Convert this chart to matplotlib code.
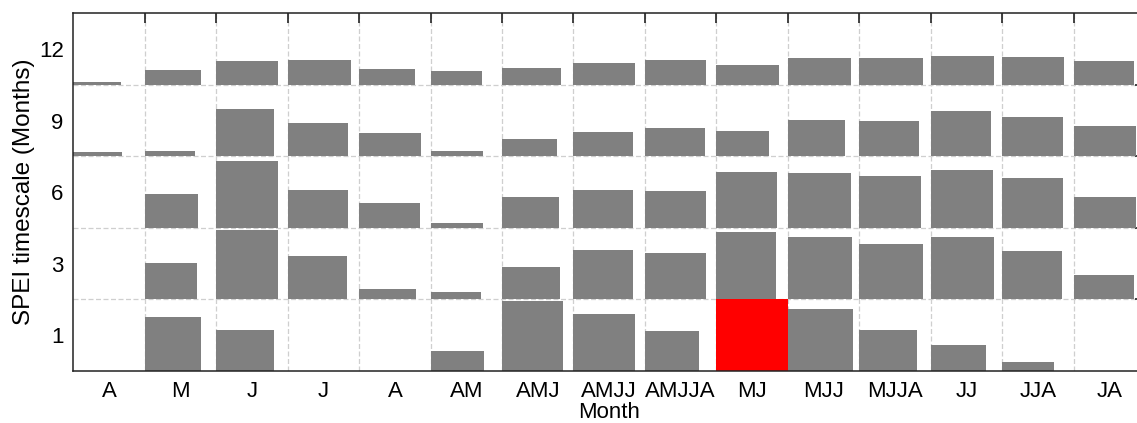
import numpy as np
from matplotlib import pyplot as plt

# month groupings along x, SPEI timescales along y
months = ['A', 'M', 'J', 'J', 'A', 'AM', 'AMJ', 'AMJJ', 'AMJJA',
          'MJ', 'MJJ', 'MJJA', 'JJ', 'JJA', 'JA']
timescales = ['1', '3', '6', '9', '12']

# bar height (fraction of cell) for each timescale row
h_ts1 = [0, 0.75, 0.58, 0, 0, 0.28, 0.98, 0.79, 0.56, 1.0, 0.86, 0.57, 0.36, 0.13, 0]
h_ts3 = [0.008, 0.51, 0.97, 0.61, 0.15, 0.11, 0.46, 0.69, 0.65, 0.94, 0.88, 0.78, 0.88, 0.68, 0.34]
h_ts6 = [0, 0.48, 0.93, 0.53, 0.35, 0.07, 0.43, 0.53, 0.52, 0.78, 0.77, 0.73, 0.81, 0.70, 0.43]
h_ts9 = [0.06, 0.075, 0.66, 0.47, 0.33, 0.075, 0.24, 0.34, 0.40, 0.36, 0.51, 0.50, 0.63, 0.55, 0.42]
h_ts12 = [0.04, 0.21, 0.33, 0.35, 0.22, 0.19, 0.24, 0.31, 0.35, 0.28, 0.37, 0.37, 0.41, 0.39, 0.34]

# bar width (fraction of cell) for each timescale row
w_ts1 = [0, 0.78, 0.81, 0, 0, 0.75, 0.85, 0.86, 0.76, 1.0, 0.91, 0.81, 0.77, 0.73, 0]
w_ts3 = [0.68, 0.73, 0.86, 0.83, 0.80, 0.71, 0.81, 0.84, 0.85, 0.84, 0.90, 0.89, 0.88, 0.84, 0.85]
w_ts6 = [0, 0.74, 0.87, 0.85, 0.85, 0.74, 0.80, 0.84, 0.86, 0.85, 0.88, 0.87, 0.87, 0.85, 0.87]
w_ts9 = [0.68, 0.70, 0.81, 0.85, 0.87, 0.73, 0.77, 0.84, 0.84, 0.74, 0.80, 0.83, 0.84, 0.85, 0.87]
w_ts12 = [0.66, 0.79, 0.87, 0.89, 0.78, 0.72, 0.83, 0.86, 0.86, 0.87, 0.88, 0.89, 0.88, 0.86, 0.84]

heights = [h_ts1, h_ts3, h_ts6, h_ts9, h_ts12]
widths = [w_ts1, w_ts3, w_ts6, w_ts9, w_ts12]

plt.rcParams['font.family'] = ['Liberation Sans', 'DejaVu Sans']

fig = plt.figure(figsize=(11.37, 4.23), dpi=100)
ax = fig.add_axes([0.0646, 0.1229, 0.9424, 0.8456])

x = np.arange(len(months))
for r in range(len(timescales)):
    h = np.array(heights[r])
    w = np.array(widths[r])
    # best cell (full height) is shown in red
    colors = ['#ff0000' if v >= 1.0 else '#808080' for v in h]
    ax.bar(x, h, width=w, bottom=r, align='edge', color=colors,
           linewidth=0, zorder=2)

ax.set_xlim(0, len(months))
ax.set_ylim(0, len(timescales))

# labels sit at cell centres, ticks and grid at cell edges
ax.set_xticks(x + 0.5)
ax.set_xticklabels(months)
ax.set_yticks(np.arange(len(timescales)) + 0.5)
ax.set_yticklabels(timescales)
ax.set_xticks(np.arange(1, len(months)), minor=True)
ax.set_yticks(np.arange(1, len(timescales)), minor=True)

ax.tick_params(which='major', length=0, labelsize=16, pad=7)
ax.tick_params(which='minor', direction='in', length=7.5, width=1.2,
               top=True, bottom=False, left=False, right=True, color='#222222')
ax.grid(which='minor', color='#cfcfcf', linestyle=(0, (4, 2)), linewidth=0.9, zorder=1)
ax.set_axisbelow(True)

for s in ax.spines.values():
    s.set_linewidth(1.1)
    s.set_color('#222222')
    s.set_zorder(3)

ax.set_xlabel('Month', fontsize=16, labelpad=0)
ax.set_ylabel('SPEI timescale (Months)', fontsize=17.5, labelpad=3)

fig.savefig('out.png', dpi=100)
